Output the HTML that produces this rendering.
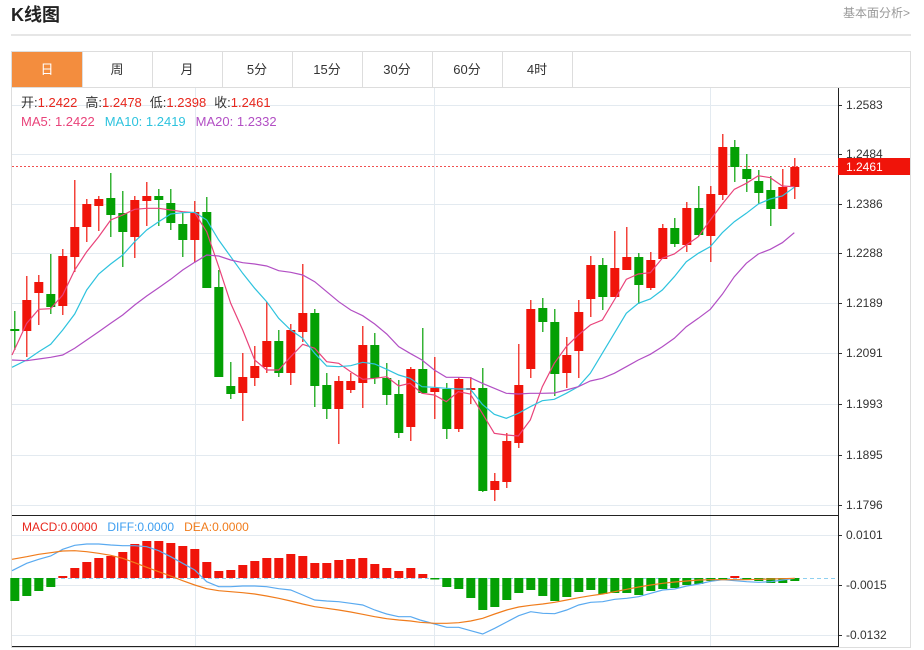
<!DOCTYPE html>
<html><head><meta charset="utf-8"><style>
body{margin:0;background:#fff;width:924px;height:650px;overflow:hidden;font-family:"Liberation Sans","Noto Sans CJK SC",sans-serif;}
</style></head><body>
<svg id="s" width="924" height="650" xmlns="http://www.w3.org/2000/svg" style="position:absolute;left:0;top:0">
<text x="11" y="21" font-size="18" font-weight="bold" fill="#222" font-family="Liberation Sans,Noto Sans CJK SC,sans-serif">K线图</text>
<text x="910" y="17" font-size="12" fill="#999" text-anchor="end" font-family="Liberation Sans,Noto Sans CJK SC,sans-serif">基本面分析&gt;</text>
<line x1="11" y1="35" x2="911" y2="35" stroke="#ccc" stroke-width="1"/>
<rect x="11.5" y="51.5" width="899" height="596" fill="none" stroke="#ddd"/>
<line x1="11" y1="87.5" x2="911" y2="87.5" stroke="#ddd"/>
<rect x="12" y="52" width="70" height="35" fill="#f38d3e"/>
<g id="tabs" font-size="13" fill="#333" text-anchor="middle" font-family="Liberation Sans,Noto Sans CJK SC,sans-serif"></g>
<g id="grid"></g>
<g id="cd"></g>
<g id="ln"></g>
<g font-size="13" font-family="Liberation Sans,Noto Sans CJK SC,sans-serif">
<text x="21" y="107"><tspan fill="#333">开:</tspan><tspan fill="#e8271d">1.2422</tspan><tspan fill="#333" dx="8">高:</tspan><tspan fill="#e8271d">1.2478</tspan><tspan fill="#333" dx="8">低:</tspan><tspan fill="#e8271d">1.2398</tspan><tspan fill="#333" dx="8">收:</tspan><tspan fill="#e8271d">1.2461</tspan></text>
<text x="21" y="126"><tspan fill="#e9437a">MA5: 1.2422</tspan><tspan fill="#2ec3de" dx="10">MA10: 1.2419</tspan><tspan fill="#b24fc4" dx="10">MA20: 1.2332</tspan></text>
</g>
<g font-size="12" font-family="Liberation Sans,sans-serif">
<text x="22" y="531"><tspan fill="#e8271d">MACD:0.0000</tspan><tspan fill="#3d9ef0" dx="10">DIFF:0.0000</tspan><tspan fill="#f07c1c" dx="10">DEA:0.0000</tspan></text>
</g>
</svg>
<script>
const NS="http://www.w3.org/2000/svg";
function el(p,t,a,txt){const e=document.createElementNS(NS,t);for(const k in a)e.setAttribute(k,a[k]);if(txt)e.textContent=txt;document.getElementById(p).appendChild(e);return e;}
["日","周","月","5分","15分","30分","60分","4时"].forEach((t,i)=>{el("tabs","text",{x:47+70*i,y:74,fill:i==0?"#fff":"#333"},t);el("tabs","line",{x1:82+70*i+.5,y1:52,x2:82+70*i+.5,y2:87,stroke:"#ddd"});});
// grid
const gy=[105,154,204,253,303,353,404,455,505],gl=["1.2583","1.2484","1.2386","1.2288","1.2189","1.2091","1.1993","1.1895","1.1796"];
gy.forEach((y,i)=>{el("grid","line",{x1:12,y1:y+.5,x2:838,y2:y+.5,stroke:"#e3eaf0"});el("grid","line",{x1:838,y1:y+.5,x2:842,y2:y+.5,stroke:"#333"});el("grid","text",{x:846,y:y+4,"font-size":12,fill:"#333","font-family":"Liberation Sans,sans-serif"},gl[i]);});
[[535,"0.0101"],[585,"-0.0015"],[635,"-0.0132"]].forEach(a=>{el("grid","line",{x1:12,y1:a[0]+.5,x2:838,y2:a[0]+.5,stroke:"#e3eaf0"});el("grid","line",{x1:838,y1:a[0]+.5,x2:842,y2:a[0]+.5,stroke:"#333"});el("grid","text",{x:846,y:a[0]+4,"font-size":12,fill:"#333","font-family":"Liberation Sans,sans-serif"},a[1]);});
[195,434,710].forEach(x=>el("grid","line",{x1:x+.5,y1:88,x2:x+.5,y2:647,stroke:"#e3eaf0"}));
el("grid","line",{x1:12,y1:515.5,x2:838,y2:515.5,stroke:"#222"});
el("grid","line",{x1:12,y1:646.5,x2:838,y2:646.5,stroke:"#222"});
el("grid","line",{x1:838.5,y1:88,x2:838.5,y2:647,stroke:"#222"});
el("grid","line",{x1:12,y1:166.5,x2:838,y2:166.5,stroke:"#f05050","stroke-dasharray":"2,2"});
el("grid","rect",{x:838,y:158,width:72,height:17,fill:"#f0140a"});
el("grid","text",{x:846,y:171,"font-size":12,fill:"#fff","font-family":"Liberation Sans,sans-serif"},"1.2461");
el("grid","line",{x1:12,y1:578.5,x2:838,y2:578.5,stroke:"#8fd0f0","stroke-dasharray":"4,3"});
// candles [color, top, bottom, high, low]
const C=[["g",329,331,311,350],["r",300,331,276,357],["r",282,293,275,325],["g",294,307,254,314],["r",256,306,249,315],["r",227,257,180,272],["r",204,227,199,242],["r",199,206,196,231],["g",198,215,173,237],["g",213,232,191,267],["r",200,237,196,258],["r",196,201,182,226],["g",196,200,189,226],["g",203,223,189,230],["g",224,240,213,257],["r",212,240,201,262],["g",212,288,197,288],["g",287,377,270,377],["g",386,394,362,399],["r",377,393,353,421],["r",366,378,346,386],["r",341,367,302,373],["g",341,373,330,377],["r",330,373,324,385],["r",313,332,264,342],["g",313,386,309,407],["g",385,409,373,419],["r",381,409,376,444],["r",381,390,373,393],["r",345,383,326,408],["g",345,378,333,384],["g",378,395,363,405],["g",394,433,380,438],["r",369,427,367,441],["g",369,393,328,393],["r",388,392,357,419],["g",389,429,383,439],["r",379,429,377,432],["r",388,390,377,404],["g",388,491,368,492],["r",481,490,473,501],["r",441,482,433,488],["r",385,443,344,448],["r",309,369,300,378],["g",308,322,298,332],["g",322,374,309,396],["r",355,373,337,388],["r",312,351,300,378],["r",265,299,256,317],["g",265,297,258,310],["r",268,297,231,297],["r",257,270,227,270],["g",257,285,253,304],["r",260,288,252,290],["r",228,259,224,259],["g",228,244,218,247],["r",208,245,202,252],["g",208,235,186,236],["r",194,236,186,262],["r",147,195,134,200],["g",147,167,140,182],["g",169,179,154,192],["g",181,193,170,204],["g",190,209,176,226],["r",187,209,169,209],["r",167,187,158,199]];
const col={r:"#f0140a",g:"#04a004"};
const X=i=>14.8+12*i;
C.forEach((c,i)=>{const x=X(i);el("cd","line",{x1:x,y1:c[3],x2:x,y2:c[4],stroke:col[c[0]],"stroke-width":1.2});el("cd","rect",{x:x-4.5,y:c[1],width:9,height:Math.max(1.5,c[2]-c[1]),fill:col[c[0]]});});
// macd bars
const M=[601,596,591,587,576,568,562,558,556,552,544,541,541,543,546,549,562,571,570,565,561,558,558,554,556,563,563,560,559,558,564,568,571,568,574,579,587,589,598,610,607,600,593,590,596,601,597,592,590,594,593,593,595,591,589,588,585,584,581,579,576,580,581,583,583,581];
const Z=578;
M.forEach((v,i)=>{const x=X(i);const up=v<Z||i==60;const t=Math.min(v,Z),h=Math.max(1.5,Math.abs(v-Z));el("cd","rect",{x:x-4.5,y:t,width:9,height:h,fill:up?col.r:col.g});});
function pl(a,ox,oy,c){const p=[];for(let i=0;i<a.length;i+=2)p.push((ox+a[i]/3).toFixed(1)+","+(oy+a[i+1]/3).toFixed(1));return p.join(" ");}
function line(a,b,c){el("ln","polyline",{points:pl(a,0,160)+" "+pl(b,400,130),fill:"none",stroke:c,"stroke-width":1.2});}
function line2(a,b,c){el("ln","polyline",{points:pl(a,0,510)+" "+pl(b,420,510),fill:"none",stroke:c,"stroke-width":1.2});}
line([36,585,80,490,116,448,152,446,188,405,224,330,260,275,296,230,332,180,368,165,404,148,440,145,476,145,512,150,548,155,584,158,620,215,656,320,692,430,728,510,764,600,800,630,836,630,872,590,908,553,944,565,980,605,1016,610,1052,635,1088,658,1124,655,1160,650,1196,678],[30,760,66,790,103,795,139,815,175,785,211,792,247,850,283,910,319,915,355,918,391,870,427,770,463,700,499,650,535,615,571,585,607,570,643,510,679,448,715,432,751,428,787,385,823,372,859,345,895,320,931,270,967,222,1003,178,1039,160,1075,137,1111,143,1147,168,1183,170],"#e9437a");
line([36,622,80,600,116,575,152,553,188,510,224,462,260,390,296,342,332,312,368,285,404,245,440,210,476,185,512,162,548,158,584,157,620,180,656,240,692,290,728,340,764,385,800,425,836,475,872,510,908,535,944,580,980,618,1016,620,1052,617,1088,607,1124,612,1160,628,1196,645],[30,745,66,770,103,772,139,775,175,777,211,777,247,823,283,853,319,865,355,850,391,830,427,812,463,808,499,790,535,770,571,730,607,670,643,610,679,550,715,520,751,507,787,480,823,440,859,395,895,370,931,350,967,308,1003,275,1039,250,1075,222,1111,207,1147,198,1183,172],"#2ec3de");
line([36,600,80,602,116,597,152,592,188,585,224,565,260,540,296,515,332,490,368,465,404,435,440,408,476,383,512,358,548,330,584,307,620,285,656,288,692,300,728,308,764,312,800,318,836,332,872,337,908,345,944,365,980,395,1016,425,1052,450,1088,467,1124,492,1160,522,1196,560],[30,670,66,690,103,720,139,742,175,742,211,743,247,760,283,775,319,790,355,792,391,790,427,790,463,789,499,780,535,770,571,753,607,745,643,730,679,710,715,690,751,673,787,650,823,625,859,590,895,565,931,538,967,493,1003,440,1039,400,1075,372,1111,358,1147,338,1183,308],"#b24fc4");
line2([36,182,80,160,116,148,152,138,188,118,224,106,260,102,296,102,332,105,368,107,404,107,440,110,476,122,512,140,548,160,584,180,620,215,656,230,692,230,728,228,764,228,800,230,836,236,872,240,908,255,944,270,980,273,1016,275,1052,280,1088,285,1124,300,1160,312,1196,320,1232,320],[0,330,44,342,80,352,116,352,152,362,188,372,224,355,260,336,296,317,332,305,368,310,404,311,440,300,476,285,512,277,548,275,584,268,620,265,656,260,692,250,728,240,764,237,800,228,836,222,872,214,908,209,944,212,980,215,1016,217,1052,215,1088,210,1124,205],"#5aaaf0");
line2([36,148,80,140,116,133,152,128,188,123,224,122,260,125,296,130,332,136,368,145,404,158,440,172,476,185,512,198,548,212,584,225,620,236,656,242,692,245,728,248,764,252,800,258,836,265,872,273,908,282,944,290,980,295,1016,300,1052,306,1088,313,1124,320,1160,326,1196,330,1232,333],[0,337,44,340,80,340,116,338,152,333,188,325,224,312,260,300,296,291,332,286,368,282,404,277,440,270,476,263,512,257,548,252,584,245,620,238,656,231,692,225,728,220,764,216,800,213,836,210,872,209,908,209,944,209,980,209,1016,208,1052,207,1088,206,1124,205],"#f07c1c");
</script>
</body></html>
